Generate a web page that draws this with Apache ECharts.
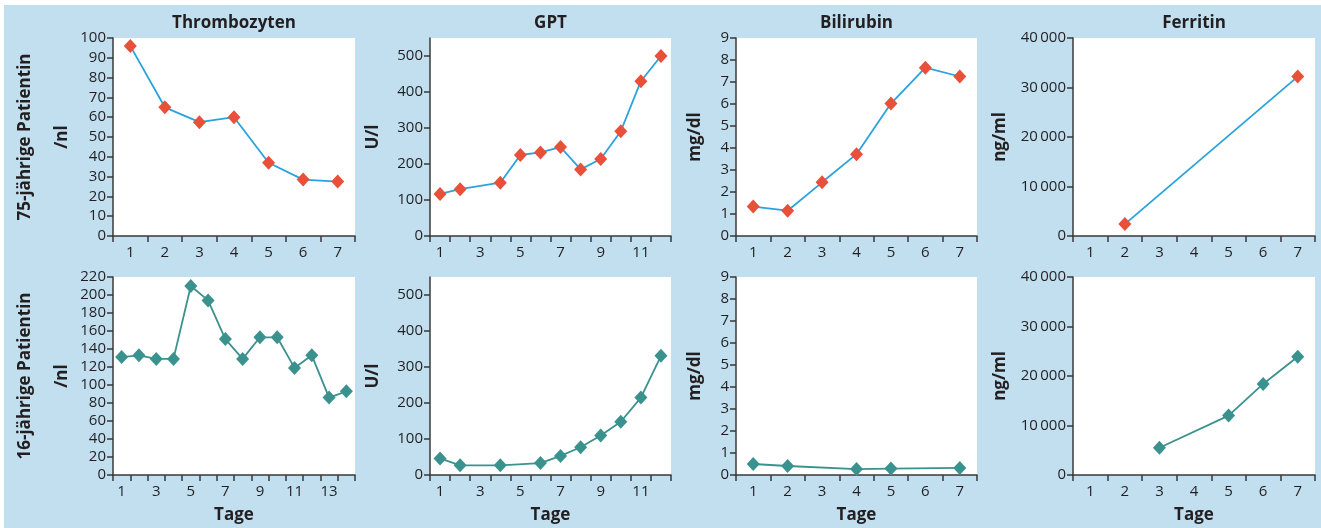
<!DOCTYPE html>
<html>
<head>
<meta charset="utf-8">
<script src="https://cdn.jsdelivr.net/npm/echarts@6/dist/echarts.min.js"></script>
<style>
html,body{margin:0;padding:0;background:#fff;}
#main{width:1321px;height:528px;}
</style>
</head>
<body>
<div id="main"></div>
<script>
// ---- data ----
const panelTitles = ['Thrombozyten', 'GPT', 'Bilirubin', 'Ferritin'];
const rowLabels = ['75-jährige Patientin', '16-jährige Patientin'];
const unitLabels = ['/nl', 'U/l', 'mg/dl', 'ng/ml'];
const xAxisTitle = 'Tage';

const days7 = ['1', '2', '3', '4', '5', '6', '7'];
const days12 = ['1', '2', '3', '4', '5', '6', '7', '8', '9', '10', '11', '12'];
const days14 = ['1', '2', '3', '4', '5', '6', '7', '8', '9', '10', '11', '12', '13', '14'];

const thromboTop = [96, 65, 57.5, 60, 37, 28.5, 27.5];
const gptTop = [117, 130, null, 148, 225, 232, 247, 185, 214, 291, 430, 500];
const biliTop = [1.34, 1.15, 2.44, 3.72, 6.02, 7.65, 7.25];
const ferrTop = [null, 2400, null, null, null, null, 32200];

const thromboBottom = [131, 133, 129, 129, 210, 194, 151, 129, 153, 153, 119, 133, 86, 93];
const gptBottom = [46, 27, null, 27, null, 33, 53, 77, 110, 148, 215, 331];
const biliBottom = [0.5, 0.41, null, 0.27, 0.29, null, 0.32];
const ferrBottom = [null, null, 5500, null, 12000, 18400, 23900];

const thromboTopTicks = [0, 10, 20, 30, 40, 50, 60, 70, 80, 90, 100];
const thromboBottomTicks = [0, 20, 40, 60, 80, 100, 120, 140, 160, 180, 200, 220];
const gptTicks = [0, 100, 200, 300, 400, 500];
const biliTicks = [0, 1, 2, 3, 4, 5, 6, 7, 8, 9];
const ferrTicks = [0, 10000, 20000, 30000, 40000];

// ---- layout / style ----
const FONT = 'Open Sans';
const TXT = '#231f20';
const AXIS = '#3a3a3a';
const cols = [[113, 355], [430, 671], [736, 977], [1073, 1315]];
const rows = [[38, 236], [277, 475]];
const W = 1321, H = 528;

const panels = [
  {r: 0, c: 0, cats: days7, data: thromboTop, max: 100, ticks: thromboTopTicks, labInt: 0},
  {r: 0, c: 1, cats: days12, data: gptTop, max: 550, ticks: gptTicks, labInt: 1},
  {r: 0, c: 2, cats: days7, data: biliTop, max: 9, ticks: biliTicks, labInt: 0},
  {r: 0, c: 3, cats: days7, data: ferrTop, max: 40000, ticks: ferrTicks, labInt: 0},
  {r: 1, c: 0, cats: days14, data: thromboBottom, max: 220, ticks: thromboBottomTicks, labInt: 1},
  {r: 1, c: 1, cats: days12, data: gptBottom, max: 550, ticks: gptTicks, labInt: 1},
  {r: 1, c: 2, cats: days7, data: biliBottom, max: 9, ticks: biliTicks, labInt: 0},
  {r: 1, c: 3, cats: days7, data: ferrBottom, max: 40000, ticks: ferrTicks, labInt: 0}
];

const rowStyle = [
  {line: '#2aa3dc', marker: '#e8503a'},
  {line: '#3a928e', marker: '#3a928e'}
];

function fmt(v) {
  if (v >= 10000) {
    const s = String(v);
    return s.slice(0, s.length - 3) + '\u2009' + s.slice(-3);
  }
  return String(v);
}

const grid = [], xAxis = [], yAxis = [], series = [];
panels.forEach((p, i) => {
  const [l, r] = cols[p.c];
  const [t, b] = rows[p.r];
  grid.push({left: l, width: r - l, top: t, height: b - t,
    show: true, backgroundColor: '#ffffff', borderWidth: 0, containLabel: false});
  xAxis.push({
    type: 'category', gridIndex: i, data: p.cats, boundaryGap: true,
    axisLine: {show: true, lineStyle: {color: AXIS, width: 1.5}},
    axisTick: {show: true, interval: 0, length: 6, lineStyle: {color: AXIS, width: 1.5}},
    axisLabel: {interval: p.labInt, margin: 9, color: TXT, fontFamily: FONT, fontSize: 15},
    splitLine: {show: false}
  });
  yAxis.push({
    type: 'value', gridIndex: i, min: 0, max: p.max,
    axisLine: {show: true, lineStyle: {color: AXIS, width: 1.5}},
    axisTick: {show: true, length: 6, customValues: p.ticks, lineStyle: {color: AXIS, width: 1.5}},
    axisLabel: {customValues: p.ticks, margin: 7, color: TXT, fontFamily: FONT, fontSize: 15, formatter: fmt},
    splitLine: {show: false}
  });
  const st = rowStyle[p.r];
  series.push({
    type: 'line', xAxisIndex: i, yAxisIndex: i, data: p.data, connectNulls: true,
    symbol: 'diamond', symbolSize: [13, 14], showAllSymbol: true,
    lineStyle: {color: st.line, width: 1.8},
    itemStyle: {color: st.marker},
    z: 3
  });
});

const graphic = [];
graphic.push({type: 'rect', left: 4, top: 5, shape: {x: 0, y: 0, width: W - 4, height: H - 5},
  style: {fill: '#c2dff0'}, z: -10, silent: true});
const BOLD = 'bold 17px "' + FONT + '"';
panelTitles.forEach((t, c) => {
  const cx = (cols[c][0] + cols[c][1]) / 2;
  graphic.push({type: 'text', x: cx, y: 23, z: 10,
    style: {text: t, font: BOLD, fill: TXT, textAlign: 'center', textVerticalAlign: 'middle'}});
  graphic.push({type: 'text', x: cx, y: 515, z: 10,
    style: {text: xAxisTitle, font: BOLD, fill: TXT, textAlign: 'center', textVerticalAlign: 'middle'}});
});
const unitX = [62, 373, 695, 1000];
rows.forEach((rw, r) => {
  const cy = (rw[0] + rw[1]) / 2;
  graphic.push({type: 'text', x: 25, y: cy, rotation: Math.PI / 2, z: 10,
    style: {text: rowLabels[r], font: BOLD, fill: TXT, textAlign: 'center', textVerticalAlign: 'middle'}});
  unitLabels.forEach((u, c) => {
    graphic.push({type: 'text', x: unitX[c], y: cy, rotation: Math.PI / 2, z: 10,
      style: {text: u, font: BOLD, fill: TXT, textAlign: 'center', textVerticalAlign: 'middle'}});
  });
});

const chart = echarts.init(document.getElementById('main'), null, {renderer: 'canvas'});
chart.setOption({
  backgroundColor: '#ffffff',
  animation: false,
  grid, xAxis, yAxis, series, graphic
});
</script>
</body>
</html>
